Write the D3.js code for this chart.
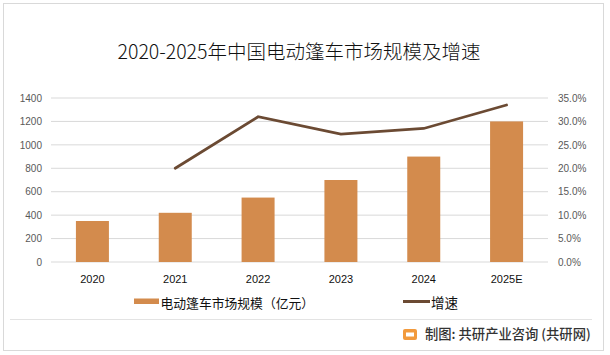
<!DOCTYPE html>
<html><head><meta charset="utf-8">
<script src="https://cdn.jsdelivr.net/npm/d3@7"></script>
<style>
body{margin:0;background:#fff;}
svg{display:block;font-family:"Noto Sans CJK SC","Noto Sans",sans-serif;}
</style></head>
<body>
<svg id="c" width="610" height="355"></svg>
<script>
const categories = ["2020","2021","2022","2023","2024","2025E"];
const marketSize = [350,420,550,700,900,1200];
const growth = [null,20.0,31.0,27.3,28.5,33.5];
const leftTicks = [0,200,400,600,800,1000,1200,1400];
const rightTicks = [0,5,10,15,20,25,30,35];
const title = "2020-2025年中国电动篷车市场规模及增速";
const seriesNames = ["电动篷车市场规模（亿元）","增速"];
const source = "制图: 共研产业咨询 (共研网)";

const svg = d3.select("#c");
const W=610,H=355;
const m={l:51,r:62,t:98,b:93};
const iw=W-m.l-m.r, ih=H-m.t-m.b;
const barColor="#d38b4d", lineColor="#6b4a33";

svg.append("rect").attr("x",3.5).attr("y",3.5).attr("width",600).attr("height",347)
  .attr("fill","#fff").attr("stroke","#d9d9d9");

svg.append("text").attr("x",299).attr("y",58.5).attr("text-anchor","middle")
  .attr("font-size",19.5).attr("font-weight",300).attr("fill","#111").text(title);

const g=svg.append("g").attr("transform",`translate(${m.l},${m.t})`);
const xc=d3.scaleBand().domain(categories).range([0,iw]);
const y=d3.scaleLinear().domain([0,1400]).range([ih,0]);
const y2=d3.scaleLinear().domain([0,35]).range([ih,0]);

// grid
g.append("g").selectAll("line").data(leftTicks).join("line")
  .attr("x1",0).attr("x2",iw).attr("y1",d=>y(d)).attr("y2",d=>y(d))
  .attr("stroke","#d9d9d9").attr("stroke-width",1);

const la=g.append("g").call(d3.axisLeft(y).tickValues(leftTicks).tickFormat(d3.format("d")).tickSize(0).tickPadding(9));
la.select(".domain").remove();
la.selectAll("text").attr("font-size",10).attr("fill","#595959").attr("font-family","Liberation Sans, Arial, sans-serif");

const ra=g.append("g").attr("transform",`translate(${iw},0)`)
  .call(d3.axisRight(y2).tickValues(rightTicks).tickFormat(d=>d.toFixed(1)+"%").tickSize(0).tickPadding(10));
ra.select(".domain").remove();
ra.selectAll("text").attr("font-size",10).attr("fill","#595959").attr("font-family","Liberation Sans, Arial, sans-serif");

const bw=33;
g.append("g").selectAll("rect").data(categories).join("rect")
  .attr("x",(d)=>xc(d)+xc.bandwidth()/2-bw/2).attr("width",bw)
  .attr("y",(d,i)=>y(marketSize[i])).attr("height",(d,i)=>ih-y(marketSize[i]))
  .attr("fill",barColor);

const ba=g.append("g").attr("transform",`translate(0,${ih})`)
  .call(d3.axisBottom(xc).tickSize(0).tickPadding(13));
ba.select(".domain").remove();
ba.selectAll("text").attr("font-size",11).attr("fill","#111").attr("font-family","Liberation Sans, Arial, sans-serif");

const pts=categories.map((c,i)=>({c,v:growth[i]})).filter(d=>d.v!=null);
g.append("path").datum(pts)
  .attr("d",d3.line().x(d=>xc(d.c)+xc.bandwidth()/2).y(d=>y2(d.v)))
  .attr("fill","none").attr("stroke",lineColor).attr("stroke-width",2.75).attr("stroke-linecap","round");

// legend
const lg=svg.append("g");
lg.append("rect").attr("x",134).attr("y",298.5).attr("width",25).attr("height",5.5).attr("fill",barColor);
lg.append("text").attr("x",160.5).attr("y",308).attr("font-size",12.8).attr("fill","#111").text(seriesNames[0]);
lg.append("line").attr("x1",403).attr("x2",430).attr("y1",301.5).attr("y2",301.5).attr("stroke",lineColor).attr("stroke-width",3);
lg.append("text").attr("x",431).attr("y",308).attr("font-size",13.5).attr("fill","#111").text(seriesNames[1]);

// footer
svg.append("line").attr("x1",10).attr("x2",592).attr("y1",319.5).attr("y2",319.5).attr("stroke","#e3e3e3");
const lo=svg.append("g").attr("transform","translate(403,329)");
lo.append("rect").attr("width",14).attr("height",11).attr("rx",2).attr("fill","#f29a3c");
lo.append("rect").attr("x",3).attr("y",3.5).attr("width",8).attr("height",4).attr("fill","#fff");
svg.append("text").attr("x",425).attr("y",339).attr("font-size",13.3).attr("font-weight",500).attr("fill","#333").text(source);
</script>
</body></html>
